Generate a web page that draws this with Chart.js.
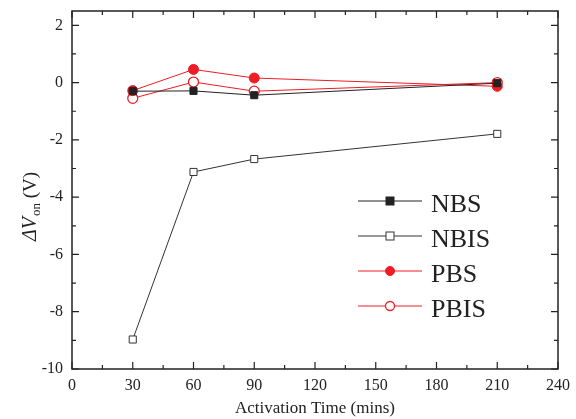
<!DOCTYPE html>
<html>
<head>
<meta charset="utf-8">
<script src="https://cdn.jsdelivr.net/npm/chart.js@4/dist/chart.umd.min.js"></script>
<style>
  html, body { margin: 0; padding: 0; background: #fff; }
  #wrap { width: 576px; height: 419px; position: relative; }
</style>
</head>
<body>
<div id="wrap"><canvas id="chart" width="576" height="419"></canvas></div>
<script>
// --- data ---
const activationTimes = [30, 60, 90, 210];
const nbsValues  = [-0.3, -0.29, -0.44, -0.02];
const nbisValues = [-8.97, -3.12, -2.67, -1.79];
const pbsValues  = [-0.28, 0.46, 0.16, -0.13];
const pbisValues = [-0.55, 0.02, -0.3, 0.0];
const seriesNames = ['NBS', 'NBIS', 'PBS', 'PBIS'];
const xTickLabels = [0, 30, 60, 90, 120, 150, 180, 210, 240];
const yTickLabels = [-10, -8, -6, -4, -2, 0, 2];

const FONT = '"Liberation Serif", "DejaVu Serif", serif';
const INK = '#222';
const RED = '#ee1c25';

const toPoints = vals => activationTimes.map((t, i) => ({ x: t, y: vals[i] }));

const datasets = [
    { label: seriesNames[0], data: toPoints(nbsValues), borderColor: '#222', backgroundColor: '#222',
      pointStyle: 'rect', pointRadius: 5, pointBorderWidth: 1 },
    { label: seriesNames[1], data: toPoints(nbisValues), borderColor: '#333', backgroundColor: '#fff',
      pointStyle: 'rect', pointRadius: 5, pointBorderWidth: 1 },
    { label: seriesNames[2], data: toPoints(pbsValues), borderColor: RED, backgroundColor: RED,
      pointStyle: 'circle', pointRadius: 5, pointBorderWidth: 1 },
    { label: seriesNames[3], data: toPoints(pbisValues), borderColor: RED, backgroundColor: '#fff',
      pointStyle: 'circle', pointRadius: 5, pointBorderWidth: 1.3 }
].map(d => Object.assign({ borderWidth: 1, tension: 0, fill: false }, d));

// frame + inward ticks on all four sides
const framePlugin = {
    id: 'frame',
    afterDraw(chart) {
        const { ctx, chartArea: a, scales } = chart;
        ctx.save();
        ctx.strokeStyle = INK;
        ctx.lineWidth = 1.5;
        ctx.strokeRect(a.left, a.top, a.right - a.left, a.bottom - a.top);
        ctx.lineWidth = 1.2;
        ctx.beginPath();
        for (let v = 0; v <= 240; v += 15) {
            const px = scales.x.getPixelForValue(v);
            const len = v % 30 === 0 ? 7 : 4;
            ctx.moveTo(px, a.bottom); ctx.lineTo(px, a.bottom - len);
            ctx.moveTo(px, a.top); ctx.lineTo(px, a.top + len);
        }
        for (let v = -10; v <= 2; v += 1) {
            const py = scales.y.getPixelForValue(v);
            const len = v % 2 === 0 ? 7 : 4;
            ctx.moveTo(a.left, py); ctx.lineTo(a.left + len, py);
            ctx.moveTo(a.right, py); ctx.lineTo(a.right - len, py);
        }
        ctx.stroke();

        // y axis title: ΔV_on (V)
        ctx.translate(36, 207);
        ctx.rotate(-Math.PI / 2);
        ctx.fillStyle = INK;
        ctx.textBaseline = 'alphabetic';
        ctx.font = 'italic 20px ' + FONT;
        const p1 = '\u0394V';
        const w1 = ctx.measureText(p1).width;
        ctx.font = '13px ' + FONT;
        const w2 = ctx.measureText('on').width;
        ctx.font = '19px ' + FONT;
        const p3 = ' (V)';
        const w3 = ctx.measureText(p3).width;
        let x0 = -(w1 + w2 + w3) / 2;
        ctx.font = 'italic 20px ' + FONT;
        ctx.fillText(p1, x0, 0);
        ctx.font = '13px ' + FONT;
        ctx.fillText('on', x0 + w1 + 1, 4);
        ctx.font = '19px ' + FONT;
        ctx.fillText(p3, x0 + w1 + w2 + 1, 0);
        ctx.restore();
    }
};

// legend inside the plot, lower right
const legendPlugin = {
    id: 'insideLegend',
    afterDatasetsDraw(chart) {
        const { ctx } = chart;
        ctx.save();
        chart.data.datasets.forEach((ds, i) => {
            const y = 201 + i * 35;
            ctx.strokeStyle = ds.borderColor;
            ctx.lineWidth = 1;
            ctx.beginPath();
            ctx.moveTo(358, y); ctx.lineTo(422, y);
            ctx.stroke();
            ctx.fillStyle = ds.backgroundColor;
            ctx.lineWidth = ds.pointBorderWidth;
            if (ds.pointStyle === 'rect') {
                ctx.fillRect(386, y - 4, 8, 8);
                ctx.strokeRect(386, y - 4, 8, 8);
            } else {
                ctx.beginPath();
                ctx.arc(390, y, 4.5, 0, Math.PI * 2);
                ctx.fill(); ctx.stroke();
            }
            ctx.fillStyle = INK;
            ctx.font = '26px ' + FONT;
            ctx.textBaseline = 'alphabetic';
            ctx.fillText(ds.label, 431, y + 11);
        });
        ctx.restore();
    }
};

new Chart(document.getElementById('chart'), {
    type: 'line',
    data: { datasets },
    options: {
        responsive: false,
        animation: false,
        layout: { padding: { top: 11, right: 18, left: 0, bottom: 0 } },
        plugins: { legend: { display: false }, tooltip: { enabled: false } },
        scales: {
            x: {
                type: 'linear', min: 0, max: 240,
                afterBuildTicks: s => { s.ticks = xTickLabels.map(v => ({ value: v })); },
                afterFit: s => { s.height = 50; s.paddingLeft = 0; s.paddingRight = 0; },
                grid: { display: false, drawTicks: false },
                border: { display: false },
                ticks: { color: INK, font: { family: FONT, size: 16 }, padding: 7, maxRotation: 0 },
                title: { display: true, text: 'Activation Time (mins)', color: INK,
                         font: { family: FONT, size: 17 }, padding: { top: 2, bottom: 0 } }
            },
            y: {
                type: 'linear', min: -10, max: 2.5,
                afterBuildTicks: s => { s.ticks = yTickLabels.map(v => ({ value: v })); },
                afterFit: s => { s.width = 72; s.paddingTop = 0; s.paddingBottom = 0; },
                grid: { display: false, drawTicks: false },
                border: { display: false },
                ticks: { color: INK, font: { family: FONT, size: 16 }, padding: 9 }
            }
        }
    },
    plugins: [framePlugin, legendPlugin]
});
</script>
</body>
</html>
